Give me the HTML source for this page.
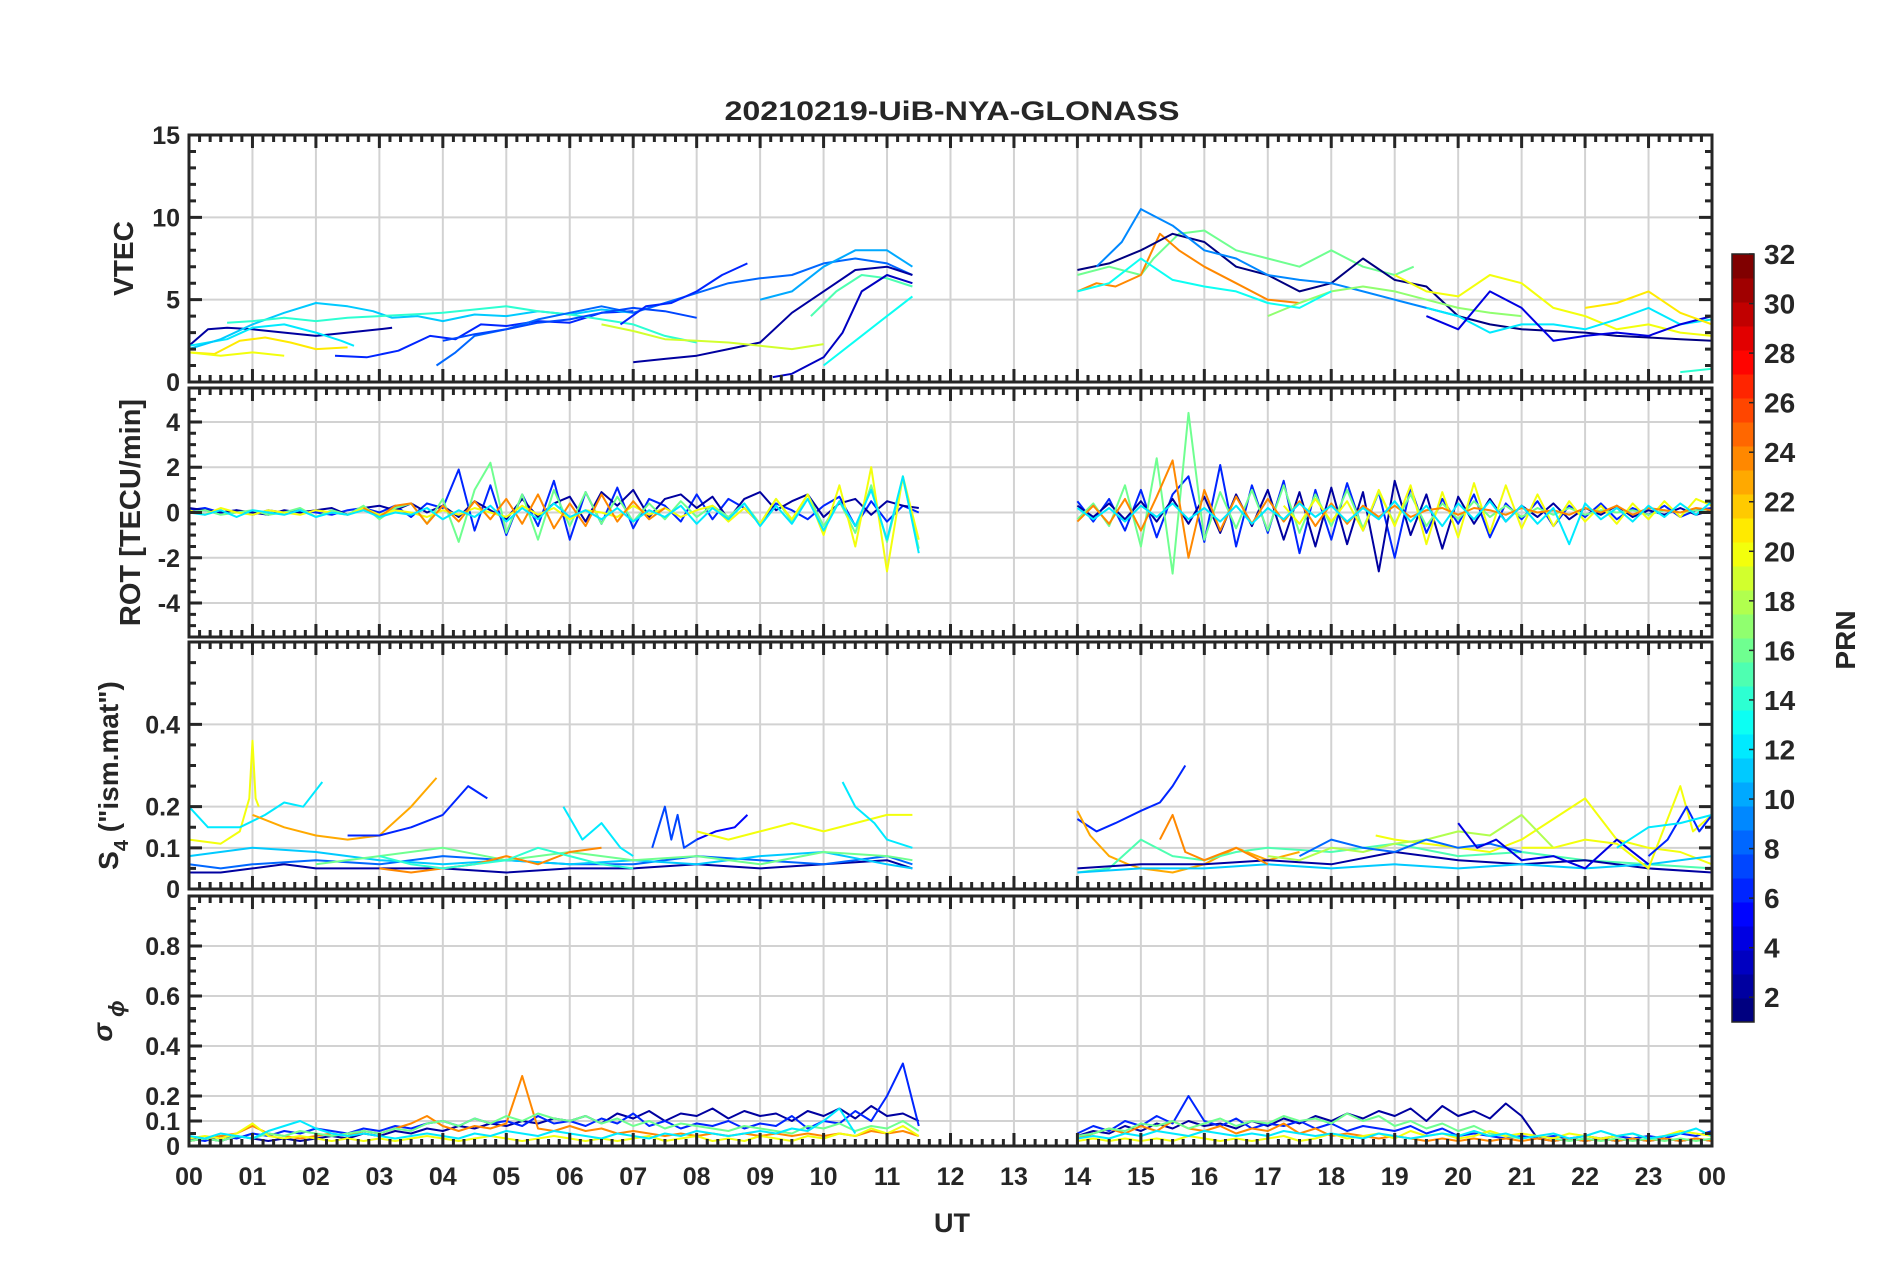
<!DOCTYPE html>
<html><head><meta charset="utf-8"><style>
html,body{margin:0;padding:0;background:#fff;}
svg text{font-family:"Liberation Sans",Arial,sans-serif;font-weight:bold;fill:#262626;}
</style></head><body>
<svg id="chart" xmlns="http://www.w3.org/2000/svg" width="1902" height="1272" viewBox="0 0 1902 1272">
<text x="952" y="120" text-anchor="middle" font-size="27" textLength="455" lengthAdjust="spacingAndGlyphs">20210219-UiB-NYA-GLONASS</text>
<g id="panels"></g>
<text x="952" y="1232" text-anchor="middle" font-size="27">UT</text>
<text transform="translate(1855,640) rotate(-90)" text-anchor="middle" font-size="28">PRN</text>
<g id="colorbar"></g>
</svg>
<script>
// ---------- data ----------
const hourLabels = ["00","01","02","03","04","05","06","07","08","09","10","11","12","13","14","15","16","17","18","19","20","21","22","23","00"];
const cbTicks = [2,4,6,8,10,12,14,16,18,20,22,24,26,28,30,32];

// VTEC lines: [prn, hours, values]
const vtecPrn = [2,6,12,11,14,21,20,8,7,6,2,19,10,15,3,13,16,24,1,9,20,12,17,4,21,13,14];
const vtecT = [
 [0,0.3,0.6,1,1.5,2,2.5,3,3.2],
 [2.3,2.8,3.3,3.8,4.2,4.6,5,5.5,6,6.5,7],
 [0,0.3,0.6,1,1.5,2,2.4,2.6],
 [0,0.5,1,1.5,2,2.5,2.9,3.2,3.6,4,4.5,5,5.5,6,6.5,7],
 [0.6,1,1.5,2,2.5,3,3.5,4,4.5,5,5.5,6,6.5,7,7.5,8],
 [0,0.4,0.8,1.2,1.6,2,2.5],
 [0,0.5,1,1.5],
 [3.9,4.2,4.5,5,5.5,6,6.5,7,7.5,8,8.5,9,9.5,10,10.5,11,11.4],
 [4,4.5,5,5.5,6,6.5,7,7.5,8],
 [6.8,7.2,7.6,8,8.4,8.8],
 [7,7.5,8,8.5,9,9.5,10,10.5,11,11.4],
 [6.5,7,7.5,8,8.5,9,9.5,10],
 [9,9.5,10,10.5,11,11.4],
 [9.8,10.2,10.6,11,11.4],
 [9.2,9.5,10,10.3,10.6,11,11.4],
 [10,10.5,11,11.4],
 [14,14.5,15,15.2,15.6,16,16.5,17,17.5,18,18.5,19,19.3],
 [14,14.3,14.6,15,15.3,15.6,16,16.5,17,17.5],
 [14,14.5,15,15.5,16,16.5,17,17.5,18,18.5,19,19.5,20,20.5,21,21.5,22,22.5,23,23.5,24],
 [14.3,14.7,15,15.5,16,16.5,17,17.5,18,18.5,19,19.5,20],
 [19,19.5,20,20.5,21,21.5,22,22.5,23,23.5,24],
 [19.5,20,20.5,21,21.5,22,22.5,23,23.5,24],
 [17,17.5,18,18.5,19,19.5,20,20.5,21],
 [19.5,20,20.5,21,21.5,22,22.5,23,23.5,24],
 [22,22.5,23,23.5,24],
 [14,14.5,15,15.5,16,16.5,17,17.5,18],
 [23.5,24]
];
const vtecV = [
 [2.2,3.2,3.3,3.2,3,2.8,3,3.2,3.3],
 [1.6,1.5,1.9,2.8,2.6,3.5,3.4,3.7,3.6,4.2,4.3],
 [2.2,2.4,2.6,3.3,3.5,3,2.5,2.2],
 [2,2.6,3.5,4.2,4.8,4.6,4.3,3.9,4,3.7,4.1,4,4.3,4.1,4.4,4.2],
 [3.6,3.7,3.9,3.7,3.9,4,4.1,4.2,4.4,4.6,4.3,4.1,3.8,3.5,2.8,2.4],
 [1.8,1.7,2.5,2.7,2.4,2,2.1],
 [1.8,1.6,1.8,1.6],
 [1,1.8,2.8,3.2,3.8,4.2,4.6,4.2,4.8,5.4,6,6.3,6.5,7.2,7.5,7.2,6.5],
 [2.5,2.9,3.2,3.6,3.8,4.2,4.5,4.3,3.9],
 [3.5,4.6,4.8,5.5,6.5,7.2],
 [1.2,1.4,1.6,2,2.4,4.2,5.5,6.8,7,6.5],
 [3.5,3.1,2.6,2.5,2.4,2.2,2,2.3],
 [5,5.5,7,8,8,7],
 [4,5.5,6.5,6.3,5.8],
 [0.3,0.5,1.5,3,5.5,6.5,6],
 [1,2.5,4,5.2],
 [6.5,7,6.5,7.5,9,9.2,8,7.5,7,8,7,6.5,7],
 [5.5,6,5.8,6.5,9,8,7,6,5,4.8],
 [6.8,7.2,8,9,8.5,7,6.5,5.5,6,7.5,6.2,5.8,4,3.5,3.2,3.1,3,2.8,2.7,2.6,2.5],
 [7,8.5,10.5,9.5,8,7.5,6.5,6.2,6,5.5,5,4.5,4],
 [6.5,5.5,5.2,6.5,6,4.5,4,3.2,3.5,3,2.8],
 [4.5,4,3,3.5,3.5,3.2,3.8,4.5,3.5,3.8],
 [4,4.8,5.5,5.8,5.5,5,4.5,4.2,4],
 [4,3.2,5.5,4.5,2.5,2.8,3,2.8,3.5,4],
 [4.5,4.8,5.5,4.2,3.5],
 [5.5,6,7.5,6.2,5.8,5.5,4.8,4.5,5.5],
 [0.6,0.8]
];

// ROT: sampled every 0.25 h; first half starts 0 h, second half starts 14 h
const rotPrn = [6,2,16,20,24,12];
const rotA = [
 [0.1,0.2,0,0.1,-0.1,0.1,0,0.1,0,-0.1,0.1,0.2,0,0.3,-0.2,0.4,0.2,1.9,-0.8,1.2,-1.0,0.8,-0.6,1.4,-1.2,0.9,-0.5,1.1,-0.7,0.6,0.3,-0.4,0.8,-0.3,0.6,0.2,-0.5,0.4,0.1,-0.3,0.3,0.7,-0.6,0.5,-0.4,0.3,0],
 [0.2,0.1,0,0.1,0,-0.1,0.1,0,0.1,0.2,-0.1,0.2,0.3,0.1,0.4,0,0.3,-0.2,0.5,0.1,-0.3,0.6,-0.2,0.4,0.7,-0.4,0.9,0.3,1.0,-0.2,0.6,0.8,0.2,0.7,-0.3,0.6,0.9,0.1,0.5,0.8,-0.2,0.4,0.6,-0.1,0.5,0.3,0.2],
 [0,0.1,-0.1,0,0.1,-0.1,0,0.2,-0.2,0.1,-0.1,0.3,-0.3,0.2,0.4,-0.5,0.6,-1.3,1.0,2.2,-0.9,0.8,-1.2,1.0,-0.6,0.9,-0.5,0.7,-0.4,0.4,-0.3,0.5,-0.2,0.3,-0.2,0.4,-0.5,0.6,-0.4,0.8,-0.6,0.5,-0.9,1.2,-1.3,1.5,-1.6],
 [0.1,-0.1,0.2,0,-0.1,0.1,0,-0.1,0.1,0,-0.1,0.2,-0.1,0.1,0,-0.2,0.1,-0.1,0.2,0,-0.2,0.3,-0.1,0.2,-0.3,0.1,0,-0.2,0.3,-0.1,0.2,-0.2,0.1,0.3,-0.4,0.2,-0.5,0.6,-0.3,0.8,-1.0,1.2,-1.5,2.0,-2.6,1.6,-1.2],
 [null,null,null,null,null,null,null,null,null,null,null,0.2,-0.2,0.3,0.4,-0.5,0.3,-0.4,0.5,-0.3,0.6,-0.5,0.8,-0.7,0.4,-0.6,0.8,-0.4,0.5,-0.3,0.2,null,null,null,null,null,null,null,null,null,null,null,null,null,null,null,null],
 [0,-0.1,0.1,-0.2,0.1,0,-0.1,0.1,-0.2,0,-0.1,0.1,-0.2,0,-0.1,0.2,-0.3,0.1,-0.2,0.3,-0.4,0.2,-0.3,0.4,-0.2,0.1,-0.3,0.2,-0.4,0.1,-0.2,0.3,-0.5,0.2,-0.3,0.4,-0.6,0.3,-0.5,0.6,-0.8,0.5,-0.6,1.0,-1.2,1.6,-1.8]
];
const rotB = [
 [0.5,-0.4,0.6,-0.8,1.0,-1.1,0.8,1.6,-1.3,2.1,-1.5,1.2,-0.9,1.4,-1.8,1.0,-1.2,1.3,-0.8,0.9,-2.0,1.1,-0.9,0.6,-0.5,0.8,-1.1,0.4,-0.3,0.5,-0.6,0.3,-0.2,0.4,-0.3,0.2,-0.1,0.3,-0.2,0.1,0.2],
 [0.3,-0.2,0.4,-0.3,0.5,-0.4,0.6,-0.5,0.7,-0.9,0.8,-0.6,1.0,-1.2,0.9,-1.5,1.1,-1.4,0.9,-2.6,1.4,-1.0,0.8,-1.6,0.7,-0.5,0.6,-0.4,0.3,-0.2,0.4,-0.3,0.2,-0.1,0.3,-0.2,0.1,-0.1,0.2,-0.1,0.1],
 [-0.3,0.4,-0.6,1.2,-1.5,2.4,-2.7,4.4,-1.2,0.9,-0.7,1.0,-0.8,1.2,-0.9,0.8,-0.6,1.0,-0.7,0.9,-0.5,0.8,-0.6,0.4,-0.3,0.5,-0.2,0.3,-0.2,0.2,-0.1,0.2,-0.1,0.1,0,0.1,-0.1,0.1,0,0.1,0],
 [null,null,null,null,null,null,null,null,null,null,null,null,null,0.3,-0.5,0.6,-0.4,0.5,-0.8,1.0,-0.6,1.2,-1.4,0.9,-1.1,1.3,-0.9,1.2,-0.7,0.8,-0.6,0.5,-0.4,0.3,-0.5,0.4,-0.3,0.5,-0.2,0.6,0.3],
 [-0.4,0.3,-0.5,0.6,-0.8,0.7,2.3,-2.0,1.0,-0.8,0.7,-0.5,0.6,-0.4,0.5,-0.6,0.4,-0.5,0.3,-0.2,0.3,-0.2,0.1,0.2,-0.1,0.2,0.1,-0.1,0.2,0,0.1,-0.1,0.2,0,0.3,-0.1,0.2,0.1,0,0.2,0.1],
 [0.2,-0.3,0.2,-0.4,0.3,-0.2,0.4,-0.3,0.2,-0.4,0.3,-0.5,0.2,-0.3,0.4,-0.2,0.3,-0.4,0.2,-0.3,0.5,-0.4,0.3,-0.6,0.4,-0.3,0.5,-0.4,0.3,-0.5,0.2,-1.4,0.4,-0.3,0.2,-0.4,0.3,-0.2,0.4,-0.1,0.5]
];

// S4 lines
const s4Prn = [20,12,23,6,2,8,11,16,24,14,12,7,5,20,12,6,23,15,2,20,11,18,24,8,4,20,6,12];
const s4T = [
 [0,0.5,0.8,0.95,1.0,1.05,1.1],
 [0,0.3,0.8,1.2,1.5,1.8,2.1],
 [1,1.5,2,2.5,3,3.5,3.9],
 [2.5,3,3.5,4,4.4,4.7],
 [0,0.5,1,1.5,2,3,4,5,6,7,8,9,10,11,11.4],
 [0,0.5,1,2,3,4,5,6,7,8,9,10,11,11.4],
 [0,1,2,3,4,5,6,7,8,9,10,11,11.4],
 [2,3,4,5,6,7,8,9,10,11,11.4],
 [3,3.5,4,4.5,5,5.5,6,6.5],
 [3,3.5,4,4.5,5,5.5,6,6.5,7],
 [5.9,6.2,6.5,6.8,7],
 [7.3,7.5,7.6,7.7,7.8,8],
 [8,8.3,8.6,8.8],
 [8,8.5,9,9.5,10,10.5,11,11.4],
 [10.3,10.5,10.8,11,11.4],
 [14,14.3,14.6,15,15.3,15.5,15.7],
 [14,14.2,14.5,14.8,15,15.5,16,16.5,17,17.5],
 [14,14.5,15,15.5,16,16.5,17,18,19,20,21,22,23,24],
 [14,15,16,17,18,19,20,21,22,23,24],
 [18.7,19,19.5,20,20.5,21,21.5,22,22.5,23,23.5,24],
 [14,15,16,17,18,19,20,21,22,23,24],
 [17,17.5,18,18.5,19,19.5,20,20.5,21,21.5],
 [15.3,15.5,15.7,16,16.5,17],
 [17.5,18,18.5,19,19.5,20,20.5,21],
 [20,20.3,20.6,21,21.5,22,22.5,23],
 [21,21.5,22,22.5,23,23.5,23.7,24],
 [23,23.3,23.6,23.8,24],
 [22.5,23,23.5,24]
];
const s4V = [
 [0.12,0.11,0.14,0.22,0.36,0.22,0.2],
 [0.2,0.15,0.15,0.18,0.21,0.2,0.26],
 [0.18,0.15,0.13,0.12,0.13,0.2,0.27],
 [0.13,0.13,0.15,0.18,0.25,0.22],
 [0.04,0.04,0.05,0.06,0.05,0.05,0.05,0.04,0.05,0.05,0.06,0.05,0.06,0.07,0.05],
 [0.06,0.05,0.06,0.07,0.06,0.08,0.07,0.06,0.06,0.08,0.07,0.06,0.08,0.06],
 [0.08,0.1,0.09,0.07,0.06,0.07,0.06,0.07,0.06,0.08,0.09,0.06,0.05],
 [0.06,0.08,0.1,0.07,0.09,0.07,0.08,0.06,0.09,0.08,0.07],
 [0.05,0.04,0.05,0.06,0.08,0.06,0.09,0.1],
 [0.08,0.06,0.05,0.06,0.07,0.1,0.08,0.06,0.05],
 [0.2,0.12,0.16,0.1,0.08],
 [0.1,0.2,0.12,0.18,0.1,0.12],
 [0.12,0.14,0.15,0.18],
 [0.14,0.12,0.14,0.16,0.14,0.16,0.18,0.18],
 [0.26,0.2,0.16,0.12,0.1],
 [0.17,0.14,0.16,0.19,0.21,0.25,0.3],
 [0.19,0.13,0.08,0.06,0.05,0.04,0.06,0.1,0.07,0.09],
 [0.04,0.05,0.12,0.08,0.07,0.09,0.1,0.09,0.11,0.08,0.09,0.07,0.06,0.05],
 [0.05,0.06,0.06,0.07,0.06,0.09,0.07,0.06,0.07,0.05,0.04],
 [0.13,0.12,0.11,0.1,0.09,0.12,0.17,0.22,0.12,0.1,0.09,0.06],
 [0.04,0.05,0.05,0.06,0.05,0.06,0.05,0.06,0.05,0.06,0.08],
 [0.08,0.07,0.1,0.09,0.11,0.12,0.14,0.13,0.18,0.1],
 [0.12,0.18,0.09,0.07,0.1,0.06],
 [0.08,0.12,0.1,0.09,0.12,0.1,0.11,0.09],
 [0.16,0.1,0.12,0.07,0.08,0.05,0.12,0.06],
 [0.1,0.1,0.12,0.11,0.05,0.25,0.14,0.18],
 [0.08,0.12,0.2,0.14,0.18],
 [0.1,0.15,0.16,0.18]
];

// sigma phi: sampled every 0.25 h; halves start at 0 h and 14 h
const sigPrn = [2,6,24,16,20,12];
const sigA = [
 [0.02,0.03,0.02,0.04,0.03,0.02,0.03,0.02,0.03,0.04,0.03,0.05,0.04,0.06,0.05,0.07,0.06,0.08,0.07,0.09,0.08,0.1,0.09,0.11,0.1,0.12,0.09,0.13,0.11,0.14,0.1,0.13,0.12,0.15,0.11,0.14,0.12,0.13,0.1,0.14,0.12,0.15,0.11,0.16,0.12,0.13,0.1],
 [0.03,0.02,0.04,0.03,0.05,0.04,0.06,0.05,0.07,0.06,0.05,0.07,0.06,0.08,0.07,0.09,0.1,0.08,0.11,0.09,0.1,0.08,0.12,0.09,0.1,0.08,0.11,0.09,0.13,0.08,0.1,0.07,0.09,0.08,0.1,0.07,0.09,0.08,0.12,0.07,0.1,0.09,0.14,0.1,0.2,0.33,0.08],
 [0.02,0.03,0.04,0.05,0.08,0.05,0.04,0.03,0.04,0.05,0.04,0.06,0.05,0.07,0.09,0.12,0.08,0.06,0.08,0.07,0.09,0.28,0.07,0.06,0.08,0.06,0.07,0.05,0.06,0.05,0.04,0.05,0.04,0.05,0.04,0.05,0.04,0.05,0.04,0.05,0.04,0.05,0.04,0.06,0.05,0.06,0.04],
 [0.02,0.03,0.02,0.04,0.03,0.05,0.04,0.06,0.05,0.04,0.05,0.06,0.05,0.07,0.06,0.09,0.1,0.08,0.11,0.09,0.12,0.1,0.13,0.11,0.1,0.12,0.09,0.11,0.08,0.1,0.07,0.09,0.08,0.07,0.06,0.08,0.07,0.06,0.05,0.08,0.07,0.09,0.06,0.08,0.07,0.1,0.06],
 [0.03,0.04,0.03,0.05,0.09,0.04,0.03,0.04,0.03,0.02,0.03,0.02,0.03,0.02,0.03,0.04,0.03,0.02,0.03,0.04,0.03,0.02,0.03,0.04,0.03,0.02,0.03,0.02,0.03,0.04,0.02,0.03,0.04,0.02,0.03,0.02,0.04,0.03,0.02,0.04,0.03,0.05,0.04,0.07,0.05,0.08,0.04],
 [0.04,0.03,0.05,0.04,0.03,0.06,0.08,0.1,0.07,0.05,0.04,0.05,0.04,0.03,0.04,0.05,0.04,0.03,0.05,0.04,0.06,0.05,0.04,0.06,0.05,0.04,0.03,0.05,0.04,0.03,0.05,0.04,0.06,0.05,0.04,0.05,0.06,0.05,0.07,0.06,0.1,0.15,0.05]
];
const sigB = [
 [0.04,0.06,0.05,0.08,0.06,0.09,0.07,0.1,0.08,0.09,0.07,0.1,0.08,0.11,0.09,0.12,0.1,0.13,0.11,0.14,0.12,0.15,0.1,0.16,0.12,0.14,0.11,0.17,0.12,0.03,0.02,0.03,0.02,0.03,0.02,0.03,0.02,0.03,0.02,0.03,0.02],
 [0.05,0.08,0.06,0.1,0.08,0.12,0.09,0.2,0.1,0.08,0.11,0.07,0.09,0.08,0.1,0.07,0.09,0.06,0.08,0.07,0.06,0.08,0.05,0.07,0.04,0.05,0.04,0.03,0.04,0.03,0.04,0.03,0.04,0.03,0.04,0.03,0.04,0.03,0.05,0.04,0.06],
 [0.03,0.05,0.07,0.05,0.08,0.06,0.1,0.07,0.06,0.08,0.05,0.07,0.06,0.09,0.05,0.07,0.04,0.05,0.04,0.03,0.04,0.03,0.02,0.03,0.02,0.03,0.02,0.03,0.02,0.03,0.02,0.03,0.02,0.03,0.02,0.03,0.02,0.03,0.02,0.03,0.02],
 [0.04,0.05,0.07,0.06,0.09,0.08,0.1,0.07,0.09,0.11,0.08,0.1,0.09,0.12,0.1,0.11,0.09,0.13,0.1,0.12,0.08,0.1,0.07,0.09,0.06,0.08,0.05,0.04,0.03,0.04,0.03,0.02,0.03,0.02,0.03,0.02,0.03,0.02,0.03,0.02,0.03],
 [0.02,0.03,0.02,0.03,0.02,0.03,0.02,0.04,0.03,0.02,0.03,0.02,0.03,0.04,0.02,0.03,0.05,0.03,0.04,0.05,0.03,0.06,0.04,0.05,0.03,0.04,0.06,0.04,0.05,0.04,0.03,0.05,0.04,0.03,0.04,0.05,0.03,0.04,0.06,0.05,0.04],
 [0.03,0.04,0.03,0.05,0.04,0.06,0.05,0.04,0.06,0.05,0.04,0.05,0.04,0.06,0.05,0.04,0.05,0.04,0.03,0.05,0.04,0.03,0.04,0.05,0.04,0.06,0.04,0.05,0.03,0.04,0.05,0.03,0.04,0.06,0.04,0.05,0.03,0.04,0.05,0.07,0.04]
];

// ---------- layout ----------
const NS = "http://www.w3.org/2000/svg";
const X0 = 189, X1 = 1712;
const xs = h => X0 + (X1 - X0) * h / 24;
const panels = [
  {name:"vtec", top:135, bot:382, min:0, max:15, ticks:[0,5,10,15], minor:1, label:"VTEC"},
  {name:"rot", top:388, bot:637, min:-5.5, max:5.5, ticks:[-4,-2,0,2,4], minor:0.5, label:"ROT [TECU/min]"},
  {name:"s4", top:642, bot:889, min:0, max:0.6, ticks:[0,0.1,0.2,0.4], minor:0.05, label:"s4"},
  {name:"sigma", top:896, bot:1146, min:0, max:1, ticks:[0,0.1,0.2,0.4,0.6,0.8], minor:0.05, label:"sig"}
];
function jet(p){ const t=(p-1)/31;
  const c=v=>Math.round(255*Math.max(0,Math.min(1,v)));
  return `rgb(${c(1.5-Math.abs(4*t-3))},${c(1.5-Math.abs(4*t-2))},${c(1.5-Math.abs(4*t-1))})`; }
function mk(tag, attrs, parent){ const e=document.createElementNS(NS,tag); for(const k in attrs) e.setAttribute(k,attrs[k]); parent.appendChild(e); return e; }
const root = document.getElementById("panels");

panels.forEach((P,pi)=>{
  const g = mk("g",{},root);
  
  
  P.ys = v => P.bot - (P.bot-P.top)*(v-P.min)/(P.max-P.min);
  for(let h=1;h<24;h++){ const l=mk("line",{x1:xs(h),x2:xs(h),y1:P.top,y2:P.bot,stroke:"#d2d2d2","stroke-width":2},g);
      }
  P.ticks.forEach(v=>{ if(v===P.min) return; const l=mk("line",{x1:X0,x2:X1,y1:P.ys(v),y2:P.ys(v),stroke:"#d2d2d2","stroke-width":2},g);
      });
  P.g = mk("g",{},g);
  
  
  P.axg = mk("g",{},g);
  let d="";
  for(let m=0;m<=24*6;m++){ const x=xs(m/6), L=(m%6===0)?13:7;
    d+=`M${x},${P.top}v${L}M${x},${P.bot}v${-L}`; }
  const nMin = Math.round((P.max-P.min)/P.minor);
  for(let i=0;i<=nMin;i++){ const v=P.min+i*P.minor; const y=P.ys(v);
    const major=P.ticks.some(t=>Math.abs(t-v)<1e-9); const L=major?13:7;
    d+=`M${X0},${y}h${L}M${X1},${y}h${-L}`; }
  const tk=mk("path",{d:d,stroke:"#262626","stroke-width":3,fill:"none"},P.axg);
   
  const fr=mk("rect",{x:X0,y:P.top,width:X1-X0,height:P.bot-P.top,fill:"none",stroke:"#262626","stroke-width":3},P.axg);
   
  P.ticks.forEach(v=>{ const t=mk("text",{x:180,y:P.ys(v)+9,"text-anchor":"end","font-size":25},P.axg); t.textContent=String(v);
      });
  const cy=(P.top+P.bot)/2;
  if(P.label==="VTEC"||P.label.startsWith("ROT")){
    const t=mk("text",{transform:`translate(${P.label==="VTEC"?133:140},${cy}) rotate(-90)`,"text-anchor":"middle","font-size":P.label==="VTEC"?28:29},P.axg);
    t.textContent=P.label;  
  } else if(P.label==="s4"){
    const t=mk("text",{transform:`translate(118,${cy+10}) rotate(-90)`,"text-anchor":"middle","font-size":28},P.axg);
    t.innerHTML='S<tspan font-size="20" dy="10">4</tspan><tspan dy="-10"> ("ism.mat")</tspan>';
     
  } else {
    const t=mk("text",{transform:`translate(112,${cy}) rotate(-90)`,"text-anchor":"middle","font-size":28,"font-style":"italic","font-family":"Liberation Serif, serif","font-weight":"normal"},P.axg);
    t.innerHTML='σ<tspan font-size="22" dy="12" dx="6">ϕ</tspan>';
     
  }
});
hourLabels.forEach((s,i)=>{ const t=mk("text",{x:xs(i),y:1185,"text-anchor":"middle","font-size":25},root); t.textContent=s;
    });

function line(P, ts, vs, prn, w){
  let d="", pen=false;
  ts.forEach((t,i)=>{ const v=vs[i]; if(v===null||v===undefined){pen=false;return;}
    d+=(pen?"L":"M")+xs(t).toFixed(1)+","+P.ys(v).toFixed(1); pen=true; });
  const p=mk("path",{d:d,fill:"none",stroke:jet(prn),"stroke-width":w,"stroke-linejoin":"round"},P.g);
   
}
function sampled(arr, start){ return arr.map((_,i)=>start+i*0.25); }
vtecPrn.forEach((p,i)=>line(panels[0], vtecT[i], vtecV[i], p, 2));
rotPrn.forEach((p,i)=>{ line(panels[1], sampled(rotA[i],0), rotA[i], p, 2); line(panels[1], sampled(rotB[i],14), rotB[i], p, 2); });
s4Prn.forEach((p,i)=>line(panels[2], s4T[i], s4V[i], p, 2));
sigPrn.forEach((p,i)=>{ line(panels[3], sampled(sigA[i],0), sigA[i], p, 2); line(panels[3], sampled(sigB[i],14), sigB[i], p, 2); });
panels.forEach(P=>P.axg.parentNode.appendChild(P.axg));

const cb=document.getElementById("colorbar");
const CT=254, CB=1022, CX=1732, CW=22;
const cy = v => CB - (CB-CT)*(v-1)/31;
for(let k=1;k<=32;k++){ const h=(CB-CT)/32; const r=mk("rect",{x:CX,y:CB-k*h,width:CW,height:h+0.5,fill:jet(k)},cb);
    }
const cbf=mk("rect",{x:CX,y:CT,width:CW,height:CB-CT,fill:"none",stroke:"#262626","stroke-width":1.5},cb);
 
cbTicks.forEach(v=>{ const y=cy(v);
  const l=mk("line",{x1:CX+CW-5,x2:CX+CW,y1:y,y2:y,stroke:"#262626","stroke-width":1.5},cb);
   
  const t=mk("text",{x:CX+CW+10,y:y+10,"font-size":28},cb); t.textContent=String(v);
    });
</script>
</body></html>
